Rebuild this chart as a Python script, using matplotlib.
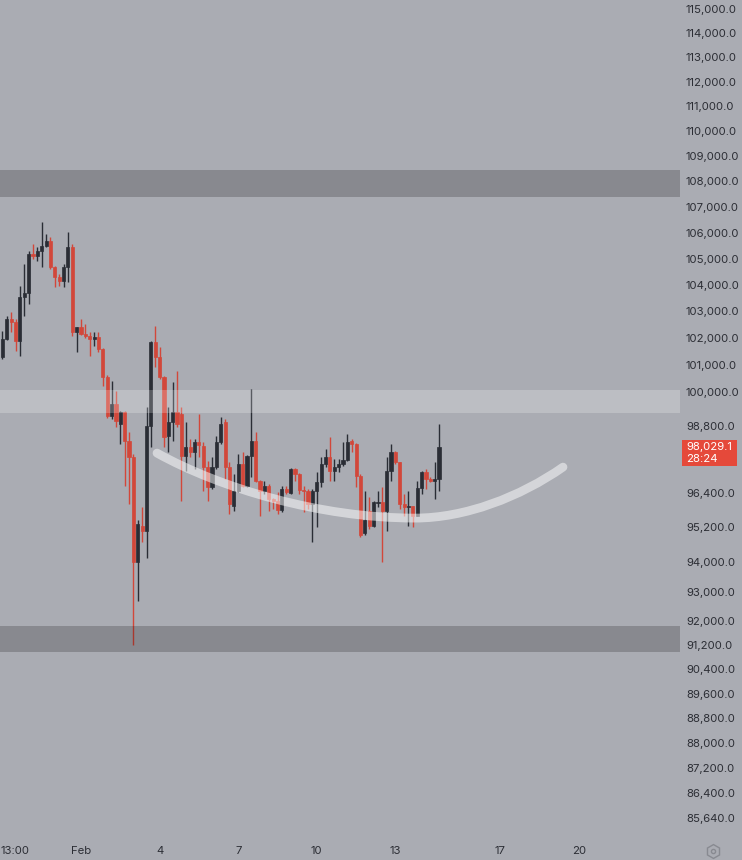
import matplotlib
matplotlib.use('Agg')
import matplotlib.pyplot as plt
import numpy as np
from matplotlib.ticker import NullLocator
from matplotlib.patches import Rectangle, PathPatch
from matplotlib.path import Path
from matplotlib.lines import Line2D

plt.rcParams['font.family'] = ['Inter', 'DejaVu Sans']

# ---------------- data (4h candles, time in days from Feb 1 00:00) ----------------
first_candle_day = -3.0
candle_hours = 4

opens = [101300, 101960, 102710, 102590, 101890, 103530, 103680, 105160, 105090, 105280,
         105470, 105660, 104670, 104290, 104140, 104670, 105430, 102220, 102400, 102150,
         102070, 101960, 102040, 101590, 100560, 99150, 99580, 98860, 99290, 98250,
         97680, 94020, 95260, 95090, 98790, 101850, 101300, 100560, 98430, 98930,
         99290, 99220, 97720, 98040, 97860, 98220, 98070, 97330, 96620, 97330,
         98220, 98930, 97330, 95960, 96480, 97430, 96660, 97720, 98250, 96830,
         96480, 96660, 96200, 96130, 95820, 96550, 96410, 97260, 97080, 96520,
         96480, 96030, 96480, 96800, 97430, 97680, 97190, 97330, 97430, 97580,
         98250, 98150, 97010, 94990, 95780, 95260, 96060, 96100, 95780, 97190,
         97860, 97500, 96030, 95920, 95960, 95610, 96590, 97150, 96900, 96830,
         96900]
highs = [102260, 102820, 102970, 102710, 103950, 104780, 105280, 105550, 105430, 106390,
         105930, 105820, 104700, 104400, 104780, 106010, 105550, 102430, 102710, 102520,
         102220, 102220, 102220, 101650, 100640, 100420, 100050, 99330, 99330, 98570,
         97790, 95440, 95920, 99470, 101900, 102450, 101670, 100600, 99470, 100380,
         100780, 99470, 98930, 98320, 98320, 99220, 98200, 97540, 97680, 98430,
         99110, 99040, 97500, 97080, 97790, 97860, 97730, 100130, 98570, 96850,
         96830, 96700, 96240, 96450, 96660, 96660, 97290, 97290, 97100, 96660,
         96550, 96550, 97140, 97680, 97970, 98390, 97610, 97610, 98220, 98500,
         98320, 98180, 97080, 96480, 96270, 96130, 96480, 96620, 97680, 98150,
         97900, 97500, 96380, 96480, 95960, 96830, 97190, 97260, 96980, 97500,
         98860]
lows = [101220, 101930, 102220, 101520, 101330, 102820, 103270, 104970, 104900, 104670,
        105430, 104590, 103910, 103950, 103910, 104100, 102070, 101480, 102110, 102000,
        101330, 101700, 101480, 100240, 99080, 99040, 98750, 98150, 96660, 96030,
        91200, 92670, 94710, 94130, 98040, 100930, 100490, 98040, 97860, 98250,
        98750, 96130, 97190, 97680, 97260, 97680, 96480, 96130, 96550, 97260,
        98150, 96900, 95680, 95780, 96450, 96620, 96620, 96980, 96800, 95580,
        96380, 95780, 95850, 95680, 95750, 96380, 96380, 96830, 96380, 95750,
        95850, 94710, 95230, 96620, 97330, 96830, 96830, 97150, 97360, 97540,
        97860, 96620, 94880, 94920, 95160, 95230, 95920, 94020, 95090, 96830,
        97430, 95850, 95580, 95260, 95230, 95610, 96380, 96550, 96800, 96200,
        96480]
closes = [101960, 102710, 102590, 101890, 103530, 103680, 105160, 105090, 105280, 105470,
          105660, 104670, 104290, 104140, 104670, 105430, 102220, 102410, 102150, 102070,
          101960, 102040, 101590, 100560, 99150, 99580, 98970, 99290, 98250, 97680,
          94020, 95330, 95090, 98790, 101850, 101300, 100560, 98390, 98930, 99290,
          98860, 97720, 98040, 97860, 98220, 98110, 97330, 96620, 97330, 98220,
          98860, 97330, 96030, 96480, 97430, 96660, 97720, 98250, 96830, 96480,
          96660, 96200, 96130, 95820, 96550, 96450, 97260, 97080, 96520, 96480,
          96030, 96480, 96800, 97430, 97680, 97190, 97330, 97430, 97580, 98220,
          98150, 97010, 94920, 95440, 95260, 96100, 96100, 95780, 97190, 97860,
          97500, 96030, 95920, 95960, 95610, 96590, 97150, 96900, 96830, 96900,
          98029.1]

last_price_text = "98,029.1"
countdown_text = "28:24"

# horizontal zones (price ranges)
dark_zones = [(107380, 108440), (90970, 91830)]
light_zones = [(99250, 100090)]

# hand-drawn arc: Bezier control points (day, price)
arc_days = [2.901, 5.305, 9.122, 12.748, 14.656, 16.756, 18.397]
arc_prices = [97813, 96574, 95523, 95523, 95523, 96257, 97315]

# axis ticks
y_ticks = [115000, 114000, 113000, 112000, 111000, 110000, 109000, 108000, 107000, 106000,
           105000, 104000, 103000, 102000, 101000, 100000, 98800, 96400, 95200, 94000,
           93000, 92000, 91200, 90400, 89600, 88800, 88000, 87200, 86400, 85640]
x_tick_pos = [-2.52, 0, 3, 6, 9, 12, 16, 19]
x_tick_labels = ["13:00", "Feb", "4", "7", "10", "13", "17", "20"]

# ---------------- style ----------------
BG = '#aaacb3'
UP = '#2a2d35'
DOWN = '#d2473a'
TXT = '#2c2e35'
W, H = 742, 860

fig = plt.figure(figsize=(W / 100, H / 100), dpi=100)
fig.patch.set_facecolor(BG)
ax = fig.add_axes([0, 22 / H, 680 / W, 838 / H])
ax.set_facecolor(BG)
for s in ax.spines.values():
    s.set_visible(False)

ax.set_yscale('log')
ax.set_ylim(85009, 115378)
ax.set_xlim(-3.092, 22.863)

n = len(opens)
t = first_candle_day + np.arange(n) * candle_hours / 24.0
o = np.array(opens, float)
c = np.array(closes, float)
hi = np.array(highs, float)
lo = np.array(lows, float)
cols = [UP if cc >= oo else DOWN for oo, cc in zip(o, c)]

ax.vlines(t, lo, hi, colors=cols, lw=1.0, zorder=2)
bottoms = np.minimum(o, c)
heights = np.maximum(np.abs(c - o), 1.0)
ax.bar(t, heights, bottom=bottoms, width=0.12, color=cols, edgecolor=cols,
       linewidth=0.5, zorder=2.5)

for lo_, hi_ in dark_zones:
    ax.axhspan(lo_, hi_, color='black', alpha=0.2, lw=0, zorder=3)
for lo_, hi_ in light_zones:
    ax.axhspan(lo_, hi_, color='white', alpha=0.22, lw=0, zorder=3)

arc_path = Path(list(zip(arc_days, arc_prices)),
                [Path.MOVETO, Path.CURVE4, Path.CURVE4, Path.CURVE4,
                 Path.CURVE4, Path.CURVE4, Path.CURVE4])
ax.add_patch(PathPatch(arc_path, facecolor='none', edgecolor='white', alpha=0.5,
                       lw=6.3, capstyle='round', joinstyle='round', zorder=4))

# y axis on right
ax.yaxis.tick_right()
ax.yaxis.set_minor_locator(NullLocator())
ax.set_yticks(y_ticks)
ax.set_yticklabels([f"{v:,.1f}" for v in y_ticks])
ax.tick_params(axis='y', length=0, pad=4.3, labelsize=8.2, labelcolor=TXT)

ax.set_xticks(x_tick_pos)
ax.set_xticklabels(x_tick_labels)
ax.tick_params(axis='x', length=0, pad=6, labelsize=8.2, labelcolor=TXT)

# last price label
fig.canvas.draw()
ypix = ax.transData.transform((0, closes[-1]))[1]
fig.add_artist(Rectangle((682 / W, (ypix - 19) / H), 55 / W, 26 / H,
                         transform=fig.transFigure, color='#e5493a', lw=0, zorder=5))
fig.text(686 / W, ypix / H, last_price_text, color='white', fontsize=8.2,
         va='center', ha='left', zorder=6)
fig.text(686 / W, (ypix - 12) / H, countdown_text, color='white', fontsize=8.2,
         va='center', ha='left', zorder=6)

# settings icon
fig.add_artist(Line2D([713 / W], [9 / H], marker='h', markersize=10, mfc='none',
                      mec='#888a91', mew=1.0, transform=fig.transFigure))
fig.add_artist(Line2D([713 / W], [9 / H], marker='o', markersize=3, mfc='none',
                      mec='#888a91', mew=1.0, transform=fig.transFigure))

fig.savefig('out.png', dpi=100, facecolor=BG)
